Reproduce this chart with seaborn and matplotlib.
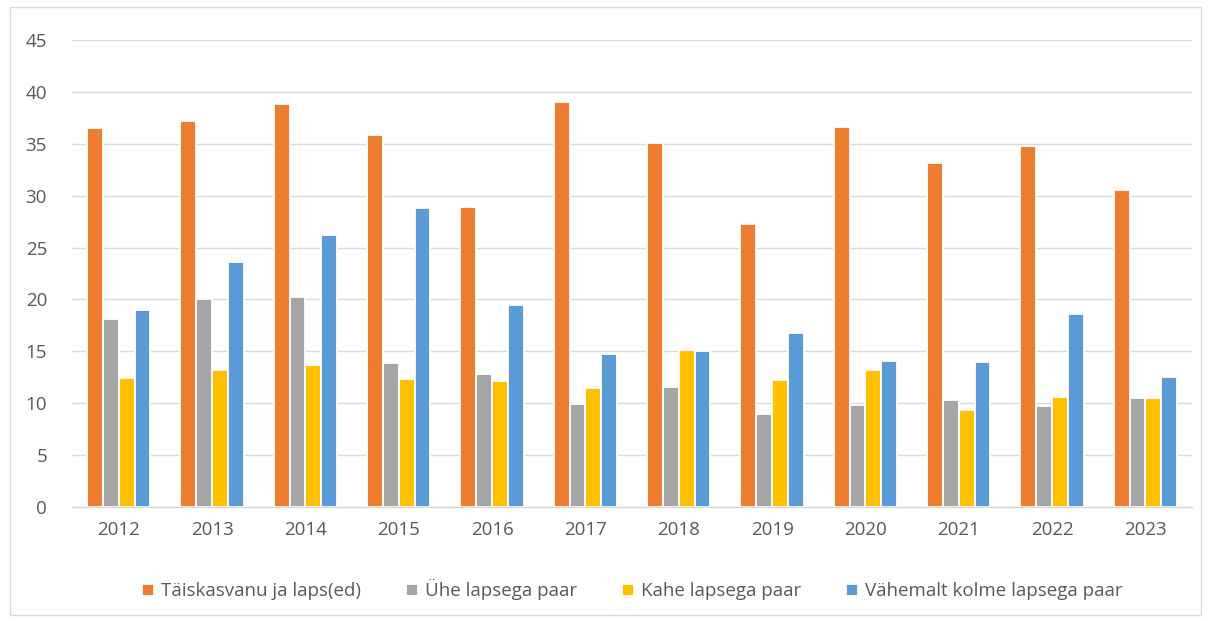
import numpy as np
import pandas as pd
import seaborn as sns
import matplotlib.pyplot as plt
from matplotlib.patches import Rectangle

# Values
years = ['2012', '2013', '2014', '2015', '2016', '2017',
         '2018', '2019', '2020', '2021', '2022', '2023']
series = ['Täiskasvanu ja laps(ed)', 'Ühe lapsega paar',
          'Kahe lapsega paar', 'Vähemalt kolme lapsega paar']
adult_child = [36.5, 37.2, 38.8, 35.8, 28.9, 39.0, 35.1, 27.3, 36.6, 33.1, 34.8, 30.5]
one_child = [18.1, 20.0, 20.2, 13.9, 12.8, 9.9, 11.6, 9.0, 9.8, 10.3, 9.7, 10.5]
two_children = [12.4, 13.2, 13.7, 12.3, 12.1, 11.5, 15.1, 12.2, 13.2, 9.3, 10.6, 10.5]
three_plus = [19.0, 23.6, 26.2, 28.8, 19.5, 14.7, 15.0, 16.8, 14.1, 14.0, 18.6, 12.5]
colors = ['#ED7D31', '#A5A5A5', '#FFC000', '#5B9BD5']

df = pd.DataFrame({'aasta': years * 4,
                   'tüüp': np.repeat(series, len(years)),
                   'väärtus': adult_child + one_child + two_children + three_plus})

sns.set_style('white')
plt.rcParams['font.family'] = ['Open Sans', 'DejaVu Sans']
text_col = '#595959'

fig = plt.figure(figsize=(12.09, 6.21), dpi=100)
ax = fig.add_axes([0.0596, 0.1836, 0.9264, 0.752])

sns.barplot(data=df, x='aasta', y='väärtus', hue='tüüp', hue_order=series,
            palette=colors, width=0.68, edgecolor='white', linewidth=1.3,
            saturation=1, ax=ax, legend=True)

ax.set_ylim(0, 45)
ax.set_yticks(range(0, 46, 5))
ax.set_xlim(-0.5, len(years) - 0.5)
ax.grid(axis='y', color='#D9D9D9', linewidth=1)
ax.set_axisbelow(True)
for s in ['top', 'right', 'left']:
    ax.spines[s].set_visible(False)
ax.spines['bottom'].set_color('#D9D9D9')
ax.spines['bottom'].set_linewidth(1)
ax.tick_params(axis='both', length=0, labelsize=13.5, colors=text_col)
ax.tick_params(axis='x', pad=10)
ax.tick_params(axis='y', pad=18)
ax.set_xlabel('')
ax.set_ylabel('')

ax.legend(loc='center', bbox_to_anchor=(0.523, 0.05), bbox_transform=fig.transFigure,
          ncol=4, frameon=False, fontsize=13.5, labelcolor=text_col,
          handlelength=0.65, handleheight=0.65, handletextpad=0.35, columnspacing=2.4)

fig.patches.append(Rectangle((0.008, 0.01), 0.985, 0.978, transform=fig.transFigure,
                             fill=False, edgecolor='#D9D9D9', linewidth=1))

fig.savefig('out.png', dpi=100)
